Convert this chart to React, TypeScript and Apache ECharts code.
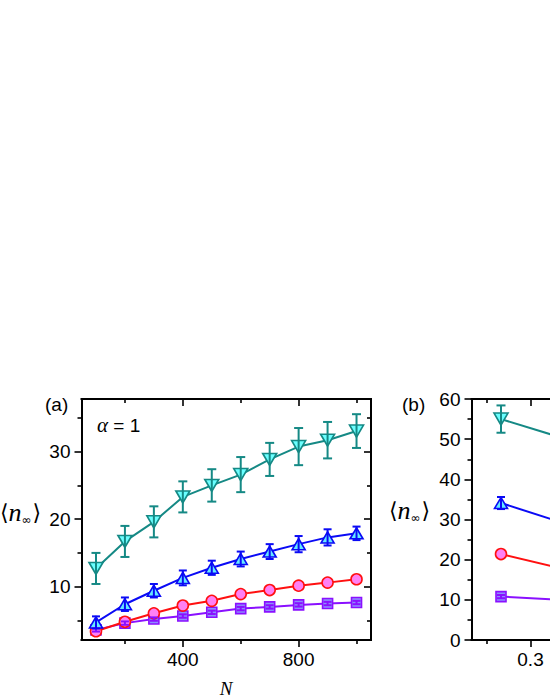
import React, { useEffect, useRef } from "react";
import * as echarts from "echarts";

// ---------- data: panel (a) ----------
const nValues = [100, 200, 300, 400, 500, 600, 700, 800, 900, 1000];
const tealA = [12.7, 16.7, 19.6, 23.3, 25.0, 26.6, 28.85, 30.75, 31.7, 33.05];
const tealAErr = [2.3, 2.3, 2.3, 2.3, 2.4, 2.6, 2.45, 2.75, 2.7, 2.5];
const blueA = [4.7, 7.4, 9.4, 11.3, 12.8, 14.1, 15.2, 16.3, 17.3, 17.9];
const blueAErr = [0.9, 1.0, 1.0, 1.1, 1.05, 1.1, 1.1, 1.2, 1.2, 1.0];
const redA = [3.4, 4.8, 6.05, 7.2, 7.9, 8.9, 9.5, 10.15, 10.6, 11.1];
const redAErr = [0.4, 0.4, 0.4, 0.4, 0.4, 0.5, 0.5, 0.5, 0.5, 0.5];
const purpleA = [3.6, 4.6, 5.2, 5.65, 6.2, 6.75, 7.0, 7.3, 7.5, 7.65];
const purpleAErr = [0.25, 0.25, 0.25, 0.25, 0.25, 0.25, 0.25, 0.25, 0.25, 0.25];

// ---------- data: panel (b) ----------
const alphaValues = [0.2, 0.4];
const tealB = [55.0, 50.5];
const tealBErr = [3.4, 3.0];
const blueB = [34.1, 29.4];
const blueBErr = [1.5, 1.3];
const redB = [21.4, 17.9];
const redBErr = [0.5, 0.5];
const purpleB = [10.8, 10.0];
const purpleBErr = [0.4, 0.4];

// ---------- ticks ----------
const xMajorA = [400, 800];
const xMinorA = [200, 600, 1000];
const yMajorA = [10, 20, 30];
const yMinorA = [5, 15, 25, 35];
const xMajorB = [0.3, 0.6, 0.9];
const xLabelsB = [0.3];
const xMinorB = [0.15, 0.45, 0.75, 1.05];
const yMajorB = [0, 10, 20, 30, 40, 50, 60];
const yMinorB = [5, 15, 25, 35, 45, 55];

const SANS = '"Liberation Sans", Arial, sans-serif';
const SERIF = '"Liberation Serif", "Times New Roman", serif';

const styles = {
  teal: { line: "#158985", fill: "#6affff", symbol: "triangle", rotate: 180, size: [14, 12], cap: 9, errZ: 5 },
  blue: { line: "#0a0af5", fill: "#66eaff", symbol: "triangle", rotate: 0, size: [13, 11], cap: 8, errZ: 5 },
  red: { line: "#ff1010", fill: "#ff80f4", symbol: "circle", rotate: 0, size: [11, 11], cap: 7, errZ: 1 },
  purple: { line: "#8a10ff", fill: "#8c8cff", symbol: "rect", rotate: 0, size: [10, 10], cap: 8, errZ: 5 },
} as const;

function axisGroup(
  dim: "x" | "y",
  gridIndex: number,
  min: number,
  max: number,
  major: number[],
  minor: number[],
  labelValues: number[]
) {
  const common = (position: string, inside: boolean, values: number[], len: number, labels: number[] | null) => ({
    type: "value",
    gridIndex,
    min,
    max,
    position,
    splitLine: { show: false },
    axisLine: { show: true, onZero: false, lineStyle: { color: "#000", width: 2 } },
    axisTick: { show: true, inside, length: len, customValues: values, lineStyle: { color: "#000", width: 1.6 } },
    axisLabel: {
      show: !!labels,
      customValues: labels || values,
      color: "#000",
      fontSize: 19,
      fontFamily: SANS,
      margin: dim === "x" ? 10 : 11,
      formatter: (v: number) => (Math.abs(v) < 5 && v % 1 !== 0 ? v.toFixed(1) : String(v)),
    },
  });
  if (dim === "x") {
    return [
      common("bottom", false, major, 7, labelValues),
      common("bottom", false, minor, 4, null),
      common("top", true, major, 7, null),
      common("top", true, minor, 4, null),
    ];
  }
  return [
    common("left", false, major, 7, labelValues),
    common("left", false, minor, 4, null),
    common("right", true, major, 7, null),
    common("right", true, minor, 4, null),
  ];
}

function makeSeries(
  key: keyof typeof styles,
  xs: number[],
  ys: number[],
  errs: number[],
  axisIndex: number
) {
  const s = styles[key];
  const line = {
    type: "line",
    xAxisIndex: axisIndex,
    yAxisIndex: axisIndex,
    data: xs.map((x, i) => [x, ys[i]]),
    symbol: s.symbol,
    symbolRotate: s.rotate,
    symbolSize: s.size,
    showAllSymbol: true,
    z: 3,
    lineStyle: { color: s.line, width: 2 },
    itemStyle: { color: s.fill, borderColor: s.line, borderWidth: 1.6, opacity: 1 },
    emphasis: { disabled: true },
  };
  const err = {
    type: "custom",
    xAxisIndex: axisIndex,
    yAxisIndex: axisIndex,
    z: s.errZ,
    data: xs.map((x, i) => [x, ys[i] - errs[i], ys[i] + errs[i]]),
    encode: { x: 0, y: [1, 2] },
    renderItem: (_p: any, api: any) => {
      const x = api.value(0);
      const lo = api.coord([x, api.value(1)]);
      const hi = api.coord([x, api.value(2)]);
      const hw = s.cap / 2;
      const st = { stroke: s.line, lineWidth: 2 };
      return {
        type: "group",
        children: [
          { type: "line", shape: { x1: lo[0], y1: lo[1], x2: hi[0], y2: hi[1] }, style: st },
          { type: "line", shape: { x1: lo[0] - hw, y1: lo[1], x2: lo[0] + hw, y2: lo[1] }, style: st },
          { type: "line", shape: { x1: hi[0] - hw, y1: hi[1], x2: hi[0] + hw, y2: hi[1] }, style: st },
        ],
      };
    },
  };
  return [line, err];
}

function nLabel(x0: number, yMid: number) {
  return {
    type: "text",
    x: x0,
    y: yMid,
    style: {
      text: "{b|⟨}{n|n}{s|∞}{b|⟩}",
      fill: "#000",
      align: "left",
      verticalAlign: "middle",
      rich: {
        b: { fontSize: 22, fontFamily: '"DejaVu Serif", serif', fill: "#000", verticalAlign: "middle", lineHeight: 28 },
        n: { fontSize: 26, fontStyle: "italic", fontFamily: SERIF, fill: "#000", verticalAlign: "middle", lineHeight: 28 },
        s: { fontSize: 12, fontFamily: '"DejaVu Sans", sans-serif', fill: "#000", verticalAlign: "bottom", lineHeight: 14, padding: [0, 1, 0, 0] },
      },
    },
  };
}

export default function App() {
  const ref = useRef<HTMLDivElement>(null);
  useEffect(() => {
    if (!ref.current) return;
    const chart = echarts.init(ref.current, undefined, { renderer: "svg" });
    const xAxes = [
      ...axisGroup("x", 0, 50, 1050, xMajorA, xMinorA, xMajorA),
      ...axisGroup("x", 1, 0.1, 1.1, xMajorB, xMinorB, xLabelsB),
    ];
    const yAxes = [
      ...axisGroup("y", 0, 2.1, 37.8, yMajorA, yMinorA, yMajorA),
      ...axisGroup("y", 1, 0, 60, yMajorB, yMinorB, yMajorB),
    ];
    const series = [
      ...makeSeries("purple", nValues, purpleA, purpleAErr, 0),
      ...makeSeries("red", nValues, redA, redAErr, 0),
      ...makeSeries("blue", nValues, blueA, blueAErr, 0),
      ...makeSeries("teal", nValues, tealA, tealAErr, 0),
      ...makeSeries("purple", alphaValues, purpleB, purpleBErr, 4),
      ...makeSeries("red", alphaValues, redB, redBErr, 4),
      ...makeSeries("blue", alphaValues, blueB, blueBErr, 4),
      ...makeSeries("teal", alphaValues, tealB, tealBErr, 4),
    ];
    chart.setOption({
      animation: false,
      backgroundColor: "#fff",
      grid: [
        { left: 81.5, top: 399, width: 289.5, height: 241, containLabel: false },
        { left: 471.5, top: 399, width: 295, height: 241, containLabel: false },
      ],
      xAxis: xAxes,
      yAxis: yAxes,
      series,
      graphic: [
        { type: "text", x: 45, y: 404, style: { text: "(a)", fontSize: 19, fontFamily: SANS, fill: "#000", align: "left", verticalAlign: "middle" } },
        { type: "text", x: 402, y: 404, style: { text: "(b)", fontSize: 19, fontFamily: SANS, fill: "#000", align: "left", verticalAlign: "middle" } },
        {
          type: "text",
          x: 97,
          y: 425,
          style: {
            text: "{a|α} = 1",
            fontSize: 19,
            fontFamily: SANS,
            fill: "#000",
            align: "left",
            verticalAlign: "middle",
            rich: { a: { fontSize: 21, fontStyle: "italic", fontFamily: SERIF, fill: "#000" } },
          },
        },
        { type: "text", x: 226, y: 688, style: { text: "N", fontSize: 19, fontStyle: "italic", fontFamily: SERIF, fill: "#000", align: "center", verticalAlign: "middle" } },
        nLabel(0, 512),
        nLabel(389, 510),
      ],
    });
    return () => chart.dispose();
  }, []);
  return (
    <div style={{ position: "fixed", left: 0, top: 0, width: 550, height: 699, overflow: "hidden", background: "#fff" }}>
      <div ref={ref} style={{ width: 820, height: 699 }} />
    </div>
  );
}
